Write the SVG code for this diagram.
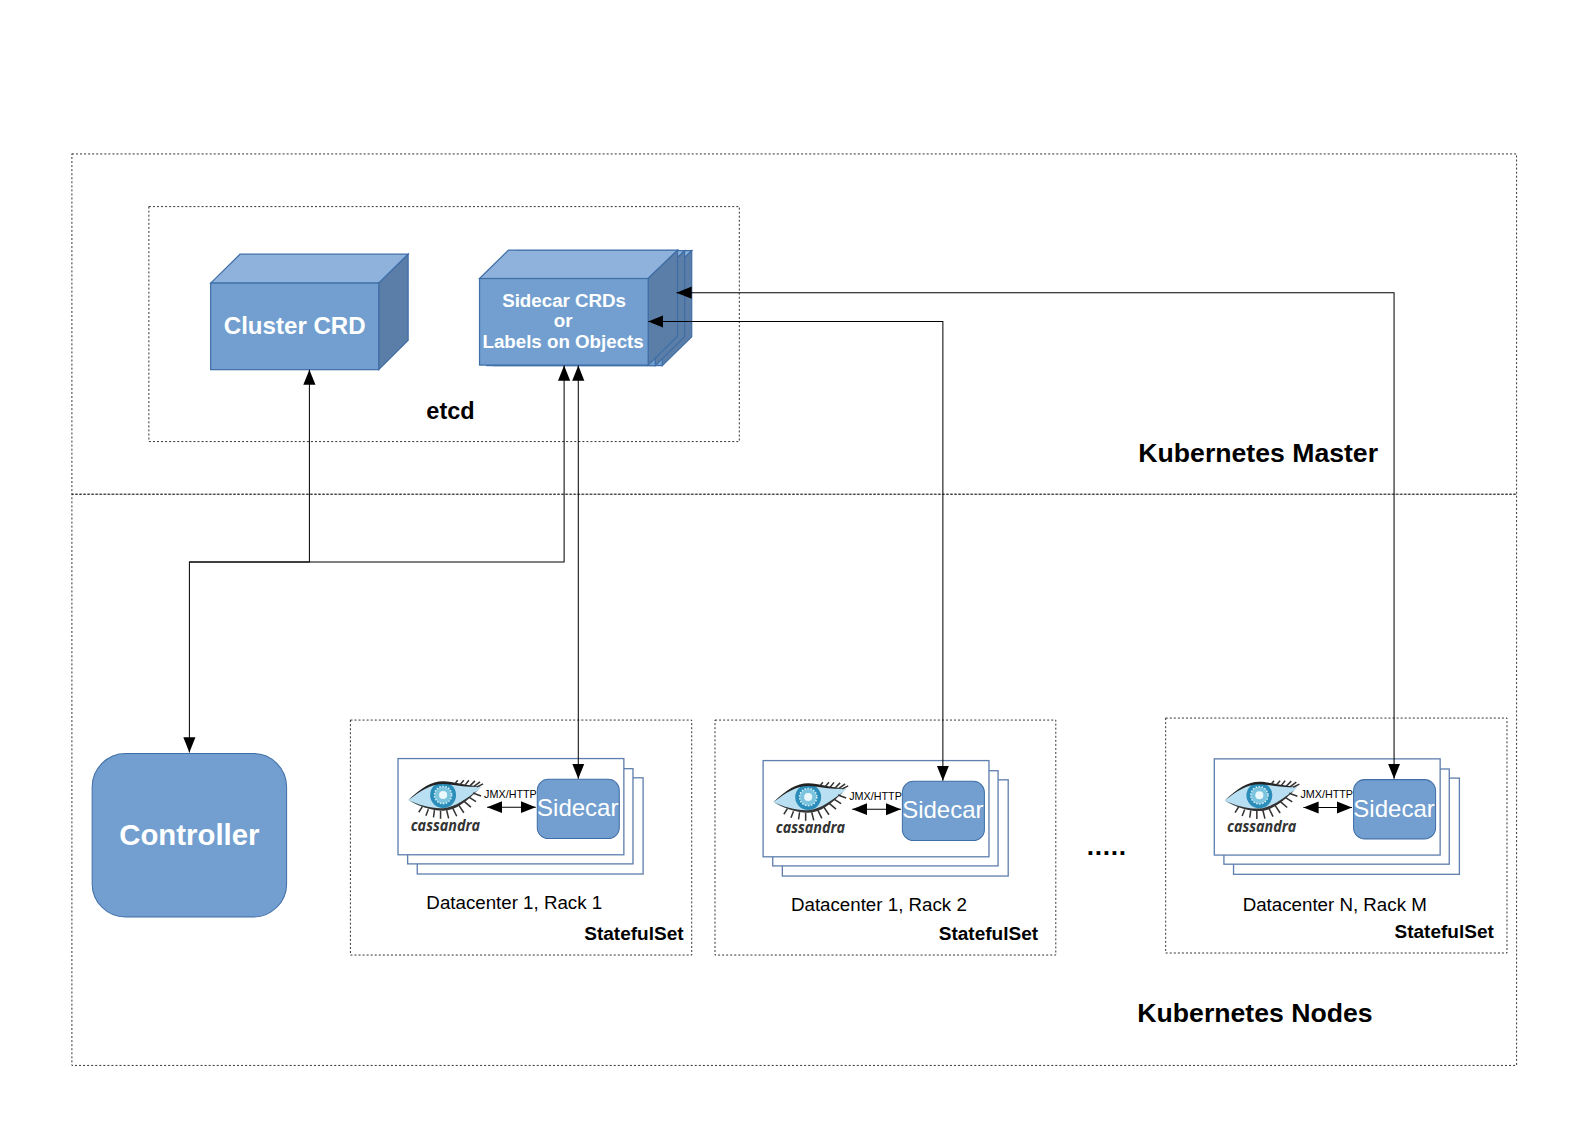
<svg xmlns="http://www.w3.org/2000/svg" width="1588" height="1122" viewBox="0 0 1588 1122">
<style>
text{font-family:"Liberation Sans",Arial,sans-serif;fill:#000}
.dash{fill:none;stroke:#222;stroke-width:.9;stroke-dasharray:2 2}
.b{font-weight:bold}
.w{fill:#fff}
.front{fill:#729fcf;stroke:#3f6ea6;stroke-width:1.2}
.top{fill:#8eb2dc;stroke:#3f6ea6;stroke-width:1.2}
.side{fill:#5b7ea8;stroke:#3f6ea6;stroke-width:1.2}
.card{fill:#fff;stroke:#5f7fae;stroke-width:1.3}
.wire{fill:none;stroke:#000;stroke-width:1}
.lash{fill:none;stroke:#333;stroke-width:1.5}
.mid{text-anchor:middle}
.dc{font-size:18.500px}
.ss{font-size:18.800px;font-weight:bold;text-anchor:end}
</style>
<defs>
<marker id="ah" markerUnits="userSpaceOnUse" markerWidth="16" markerHeight="13" refX="15" refY="6.500" orient="auto-start-reverse"><path d="M0 .5L15 6.500L0 12.500Z" fill="#000"/></marker>
<g id="cube-layer">
<path class="top" d="M473.500 275L502 247H669L640 275Z"/>
<path class="side" d="M640 275L669 247V332L640 360.500Z"/>
<rect class="front" x="473.500" y="275" width="166.500" height="85.500"/>
</g>
<g id="inst">
<rect class="card" x="412" y="768" width="223" height="95"/>
<rect class="card" x="402.500" y="759" width="222.500" height="94"/>
<rect class="card" x="393" y="749" width="223" height="95"/>
<path d="M403.200 790C416 779 426 773 437.500 772.500C450 772.500 460 776 475.200 777C463 789 450 800 437.500 800C424 800 412 796 403.200 790Z" fill="#b9dff2"/>
<circle cx="437.500" cy="785" r="12.800" fill="#2b8db9"/>
<circle cx="437.500" cy="785" r="8.500" fill="#7cc4de" stroke="#d6eef7" stroke-width="1.500" stroke-dasharray="1.500 1.500"/>
<circle cx="437.500" cy="785" r="4" fill="#eaf7fb"/>
<path d="M403.200 790C416 778 426 771.500 437.500 771.500C448 771.500 458 776 475.200 776.500C462 778 452 775 437.500 774C425 774 415 781 403.200 790Z" fill="#222"/>
<path d="M403.200 790C414 796 424 800.500 437.500 800.500C450 800.500 461 791 472 780C461 788 450 797 437.500 798C425 798.500 414 795 403.200 790Z" fill="#333"/>
<path class="lash" d="M417 796.500L413.500 802M423 799L420.500 805.500M429 800L428 807M435 800.500L435 808.500M441 800L443 808M447 798L451 806M453 795L458 802.500M458 791L465 797M463 787L470 791.500M467 783L475 786M449 774L452 770.500M454 775L458 770.500M459 775.500L463 770.500M464 776L469 771M468 776.500L474 772M471 777L477 774"/>
<text x="405.500" y="821" font-size="15.500" font-weight="bold" font-style="italic" style="font-family:'Open Sans','Liberation Sans',sans-serif;fill:#333" textLength="68.500" lengthAdjust="spacingAndGlyphs">cassandra</text>
<text x="478" y="788" font-size="10.500" textLength="52" lengthAdjust="spacingAndGlyphs">JMX/HTTP</text>
<path class="wire" marker-start="url(#ah)" marker-end="url(#ah)" d="M481 797H529"/>
<rect x="530.500" y="769.500" width="81" height="58.500" rx="11" fill="#729fcf" stroke="#3f6ea6" stroke-width="1"/>
<text class="w mid" x="570.500" y="806" font-size="23.700" style="fill:#fff">Sidecar</text>
</g>
</defs>
<rect width="1588" height="1122" fill="#fff"/>
<g transform="scale(1.01276)">
<g id="kubernetes-master">
<rect class="dash" x="71" y="152" width="1426.500" height="336"/>
<text class="b" x="1124" y="456" font-size="26.300">Kubernetes Master</text>
</g>
<g id="kubernetes-nodes">
<rect class="dash" x="71" y="488" width="1426.500" height="564"/>
<text class="b" x="1123" y="1009" font-size="26.300">Kubernetes Nodes</text>
</g>
<g id="etcd">
<rect class="dash" x="147" y="204" width="583" height="232"/>
<text class="b" x="421" y="414" font-size="23.200">etcd</text>
</g>

<g id="cluster-crd">
<path class="top" d="M208 279.500L237 251H403L374 279.500Z"/>
<path class="side" d="M374 279.500L403 251V336L374 365Z"/>
<rect class="front" x="208" y="279.500" width="166" height="85.500"/>
<text class="w b mid" x="291" y="330" font-size="23.800" style="fill:#fff">Cluster CRD</text>
</g>

<g id="sidecar-crds">
<use href="#cube-layer" x="14" y=".5"/>
<use href="#cube-layer" x="7" y=".5"/>
<use href="#cube-layer"/>
<text class="w b mid" x="557" y="303" font-size="18.500" style="fill:#fff">Sidecar CRDs</text>
<text class="w b mid" x="556" y="323" font-size="18.500" style="fill:#fff">or</text>
<text class="w b mid" x="556" y="344" font-size="18.500" style="fill:#fff">Labels on Objects</text>
</g>

<g id="controller">
<rect x="91" y="744" width="192" height="161.500" rx="33" fill="#729fcf" stroke="#3f6ea6" stroke-width="1"/>
<text class="w b mid" x="187" y="834" font-size="29" style="fill:#fff">Controller</text>
</g>

<g id="statefulset-1">
<rect class="dash" x="346" y="711" width="337" height="232"/>
<use href="#inst"/>
<text class="dc" x="421" y="897.500">Datacenter 1, Rack 1</text>
<text class="ss" x="675" y="928">StatefulSet</text>
</g>
<g id="statefulset-2">
<rect class="dash" x="706" y="711" width="336.500" height="232"/>
<use href="#inst" x="360.500" y="2"/>
<text class="dc" x="781" y="899.500">Datacenter 1, Rack 2</text>
<text class="ss" x="1025" y="928">StatefulSet</text>
</g>
<g id="statefulset-3">
<rect class="dash" x="1151" y="709" width="337" height="232"/>
<use href="#inst" x="806" y=".3"/>
<text class="dc" x="1227" y="899.500">Datacenter N, Rack M</text>
<text class="ss" x="1475" y="926">StatefulSet</text>
</g>
<text class="b" x="1073" y="844" font-size="26" textLength="39">.....</text>

<g id="connectors">
<path class="wire" marker-start="url(#ah)" marker-end="url(#ah)" d="M187 743V555H305.500V365"/>
<path class="wire" marker-end="url(#ah)" d="M187 555H557V361"/>
<path class="wire" marker-start="url(#ah)" marker-end="url(#ah)" d="M571 361V769"/>
<path class="wire" marker-start="url(#ah)" marker-end="url(#ah)" d="M640 317.500H931V771"/>
<path class="wire" marker-start="url(#ah)" marker-end="url(#ah)" d="M668 289H1376.500V769"/>
</g>
</g>
</svg>
